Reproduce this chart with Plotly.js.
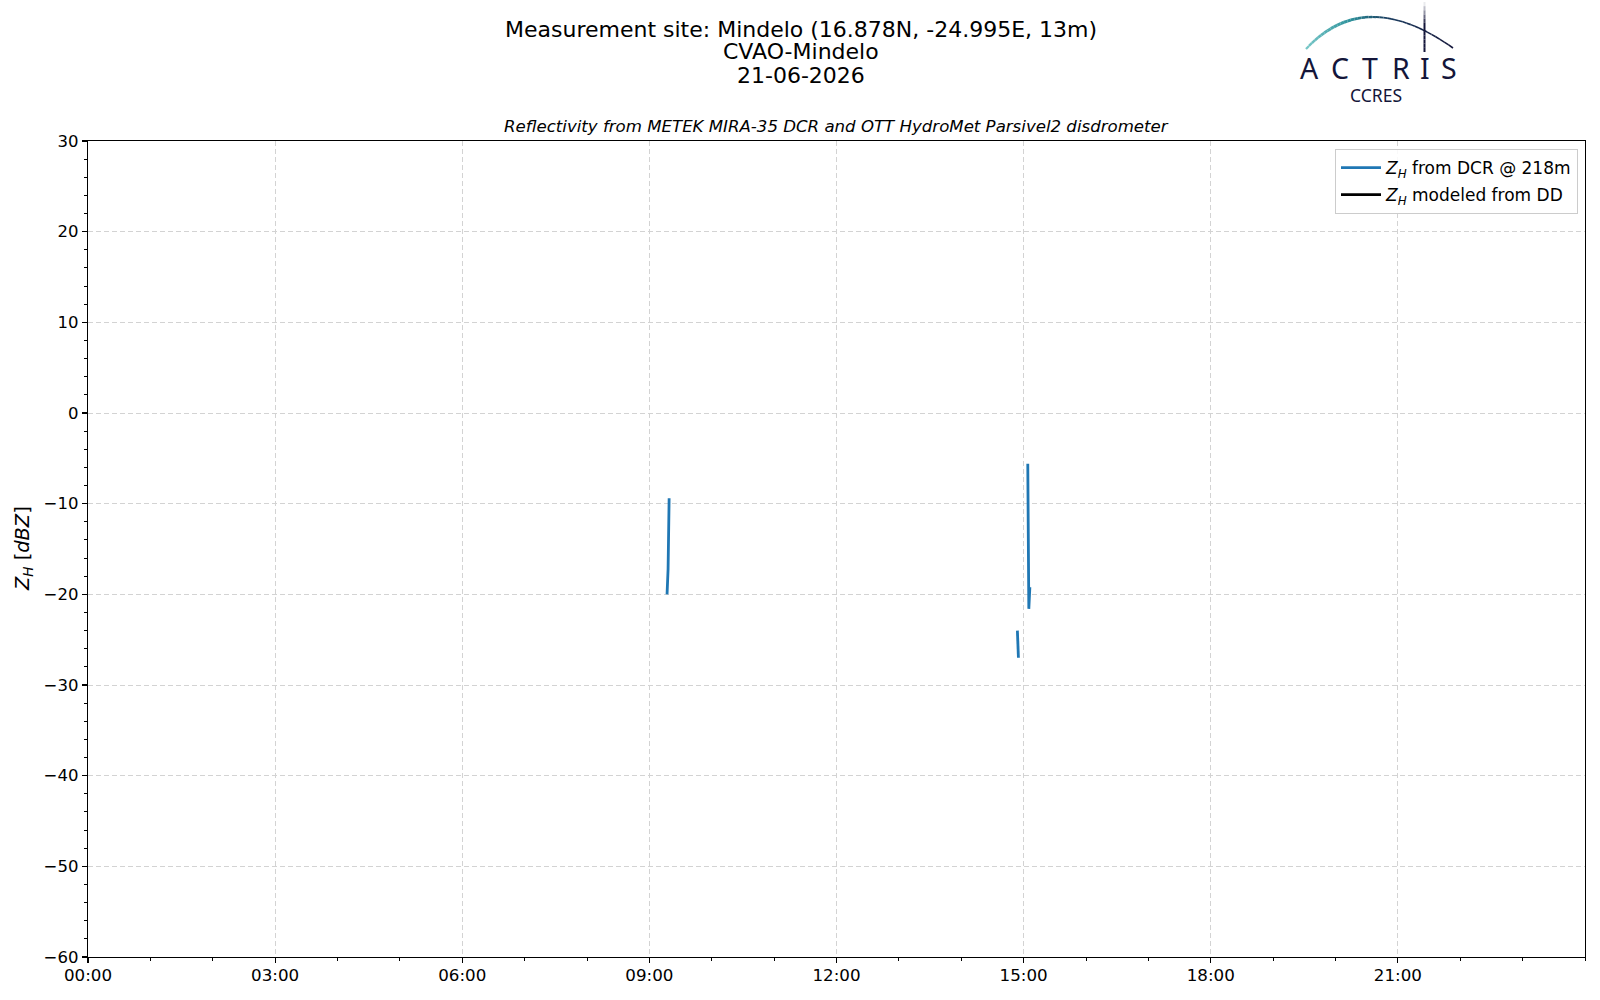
<!DOCTYPE html>
<html>
<head>
<meta charset="utf-8">
<script src="https://cdn.plot.ly/plotly-3.0.1.min.js"></script>
<style>html,body{margin:0;padding:0;background:#fff;}#chart{width:1600px;height:1000px;}</style>
</head>
<body>
<div id="chart"></div>
<script>
// ---- data ----
const day = '2026-06-21';
const dcrTime = ['09:17', '09:18', '09:19', '09:20', '14:54', '14:55', '14:56', '15:04', '15:05', '15:06'];
const dcrZh   = [-20.0,   -17.2,   -9.4,    null,    -24.0,   -27.0,   null,    -5.6,    -21.6,   -19.2];
const ddTime  = ['00:00'];
const ddZh    = [null];
const xTickLabels = ['00:00', '03:00', '06:00', '09:00', '12:00', '15:00', '18:00', '21:00'];
const titleLines = ['Measurement site: Mindelo (16.878N, -24.995E, 13m)', 'CVAO-Mindelo', '21-06-2026'];
const subTitle = 'Reflectivity from METEK MIRA-35 DCR and OTT HydroMet Parsivel2 disdrometer';
const yTitle = '<i>Z</i><sub><i>H</i></sub> [<i>dBZ</i>]';

// ---- geometry helpers (pixel -> paper) ----
const L = 88, R = 1585, T = 141, B = 957;
const px = x => (x - L) / (R - L);
const py = y => (B - y) / (B - T);

const font = 'DejaVu Sans, sans-serif';

const traces = [
  {
    x: dcrTime.map(t => day + ' ' + t), y: dcrZh,
    type: 'scatter', mode: 'lines', connectgaps: false,
    line: {color: '#1f77b4', width: 2.8},
    legendgroup: 'a',
    name: '<i>Z</i><sub><i>H</i></sub> from DCR @ 218m'
  },
  {
    x: ddTime.map(t => day + ' ' + t), y: ddZh,
    type: 'scatter', mode: 'lines',
    line: {color: '#000000', width: 2.8},
    legendgroup: 'b',
    name: '<i>Z</i><sub><i>H</i></sub> modeled from DD'
  }
];

// ---- logo shapes ----
const shapes = [];
function lerp(a, b, t) { return a + (b - a) * t; }
const stops = [[0, [120, 200, 200]], [0.35, [45, 145, 155]], [0.6, [25, 60, 95]], [1, [20, 22, 58]]];
function gcol(t) {
  for (let i = 0; i < stops.length - 1; i++) {
    const [t0, c0] = stops[i], [t1, c1] = stops[i + 1];
    if (t >= t0 && t <= t1) {
      const u = (t - t0) / (t1 - t0);
      return 'rgb(' + c0.map((v, k) => Math.round(lerp(v, c1[k], u))).join(',') + ')';
    }
  }
  return 'rgb(20,22,58)';
}
const P0 = [1306, 49], P1 = [1365, -14.5], P2 = [1453, 48];
function bez(t) {
  const a = (1 - t) * (1 - t), b = 2 * t * (1 - t), c = t * t;
  return [a * P0[0] + b * P1[0] + c * P2[0], a * P0[1] + b * P1[1] + c * P2[1]];
}
const N = 40;
for (let i = 0; i < N; i++) {
  const t0 = i / N, t1 = (i + 1) / N;
  const p = bez(t0), q = bez(t1);
  shapes.push({type: 'line', xref: 'paper', yref: 'paper',
    x0: px(p[0]), y0: py(p[1]), x1: px(q[0]), y1: py(q[1]),
    line: {color: gcol((t0 + t1) / 2), width: 1.6 + 1.4 * Math.sin(Math.PI * Math.min(1, t0 * 1.4 + 0.15))}});
}
const VN = 12;
for (let i = 0; i < VN; i++) {
  const y0 = lerp(2, 52, i / VN), y1 = lerp(2, 52, (i + 1) / VN);
  const u = Math.min(1, (i + 0.5) / VN * 2.2);
  const c = [Math.round(lerp(255, 20, u)), Math.round(lerp(255, 22, u)), Math.round(lerp(255, 58, u))];
  shapes.push({type: 'line', xref: 'paper', yref: 'paper',
    x0: px(1424.5), y0: py(y0), x1: px(1424.5), y1: py(y1),
    line: {color: 'rgb(' + c.join(',') + ')', width: 2}});
}

const annotations = [];
// main title lines
const titleY = [29, 51.5, 75];
titleLines.forEach((s, i) => {
  annotations.push({text: s, xref: 'paper', yref: 'paper', x: px(801), y: py(titleY[i]),
    xanchor: 'center', yanchor: 'middle', showarrow: false,
    font: {family: font, size: 22, color: '#000'}});
});
// subtitle
annotations.push({text: '<i>' + subTitle + '</i>', xref: 'paper', yref: 'paper', x: 0.5, y: py(126),
  xanchor: 'center', yanchor: 'middle', showarrow: false,
  font: {family: font, size: 16.6, color: '#000'}});
// y axis title
annotations.push({text: yTitle, xref: 'paper', yref: 'paper', x: px(23), y: 0.5, textangle: -90,
  xanchor: 'center', yanchor: 'middle', showarrow: false,
  font: {family: font, size: 19.4, color: '#000'}});
// logo letters
const logoLetters = ['A', 'C', 'T', 'R', 'I', 'S'];
const logoX = [1309, 1339.5, 1369.5, 1401, 1424.5, 1449];
logoLetters.forEach((ch, i) => {
  annotations.push({text: ch, xref: 'paper', yref: 'paper', x: px(logoX[i]), y: py(68),
    xanchor: 'center', yanchor: 'middle', showarrow: false,
    font: {family: 'Noto Sans, sans-serif', size: 28.5, color: '#14163a'}});
});
annotations.push({text: 'CCRES', xref: 'paper', yref: 'paper', x: px(1376), y: py(94.5),
  xanchor: 'center', yanchor: 'middle', showarrow: false,
  font: {family: 'Noto Sans, sans-serif', size: 17.5, color: '#14163a'}});

const layout = {
  width: 1600, height: 1000,
  margin: {l: L, r: 1600 - R, t: T, b: 1000 - B, pad: 0},
  paper_bgcolor: '#fff', plot_bgcolor: '#fff',
  font: {family: font, size: 16.7, color: '#000'},
  xaxis: {
    type: 'date',
    range: [day + ' 00:00', '2026-06-22 00:00'],
    tickmode: 'array',
    tickvals: xTickLabels.map(t => day + ' ' + t),
    ticktext: xTickLabels,
    ticks: 'outside', ticklen: 5, tickwidth: 1.2, tickcolor: '#000',
    ticklabelstandoff: -2,
    showline: true, mirror: true, linecolor: '#000', linewidth: 1.3,
    showgrid: true, gridcolor: '#d3d3d3', gridwidth: 1, griddash: '5px,3px',
    zeroline: false, automargin: false,
    tickfont: {family: font, size: 16.7},
    minor: {dtick: 3600000, tick0: day + ' 00:00', ticks: 'outside', ticklen: 3, tickwidth: 1, tickcolor: '#000', showgrid: false}
  },
  yaxis: {
    range: [-60, 30], dtick: 10, tick0: 0,
    ticks: 'outside', ticklen: 5, tickwidth: 1.2, tickcolor: '#000',
    showline: true, mirror: true, linecolor: '#000', linewidth: 1.3,
    showgrid: true, gridcolor: '#d3d3d3', gridwidth: 1, griddash: '5px,3px',
    zeroline: false, automargin: false,
    tickfont: {family: font, size: 16.5},
    minor: {dtick: 2, ticks: 'outside', ticklen: 3, tickwidth: 1, tickcolor: '#000', showgrid: false}
  },
  showlegend: true,
  legend: {x: px(1578), xanchor: 'right', y: py(149), yanchor: 'top',
    bordercolor: '#cccccc', borderwidth: 1, bgcolor: 'rgba(255,255,255,0.85)',
    font: {family: font, size: 17}, traceorder: 'grouped', tracegroupgap: 2, itemwidth: 40},
  shapes: shapes,
  annotations: annotations
};

Plotly.newPlot('chart', traces, layout, {displayModeBar: false, staticPlot: true});
</script>
</body>
</html>
